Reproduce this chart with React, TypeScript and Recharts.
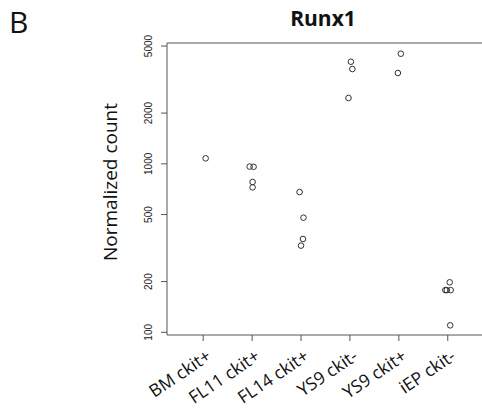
import React from 'react';
import {
  ScatterChart,
  Scatter,
  XAxis,
  YAxis,
  ReferenceLine
} from 'recharts';

// sample groups, left to right
const categories = ['BM ckit+', 'FL11 ckit+', 'FL14 ckit+', 'YS9 ckit-', 'YS9 ckit+', 'iEP ckit-'];

// normalized counts per sample
const bmCkitPlus = [1078];
const fl11CkitPlus = [963, 960, 780, 725];
const fl14CkitPlus = [680, 479, 358, 327];
const ys9CkitMinus = [4036, 3652, 2458];
const ys9CkitPlus = [4502, 3459];
const iepCkitMinus = [198, 178, 178, 178, 110];

// horizontal jitter used by the original stripchart
const bmJitter = [0.05];
const fl11Jitter = [-0.05, 0.03, 0.01, 0.01];
const fl14Jitter = [-0.03, 0.05, 0.04, 0];
const ys9MinusJitter = [0.02, 0.05, -0.03];
const ys9PlusJitter = [0.04, -0.02];
const iepJitter = [0.04, -0.05, -0.02, 0.06, 0.05];

const yTicks = [100, 200, 500, 1000, 2000, 5000];
const xTicks = [1, 2, 3, 4, 5, 6];

const groups = [
  [bmCkitPlus, bmJitter],
  [fl11CkitPlus, fl11Jitter],
  [fl14CkitPlus, fl14Jitter],
  [ys9CkitMinus, ys9MinusJitter],
  [ys9CkitPlus, ys9PlusJitter],
  [iepCkitMinus, iepJitter]
];

const points = groups.flatMap(([vals, jit], i) =>
  vals.map((v, j) => ({ x: i + 1 + jit[j], y: v }))
);

const axisColor = '#555555';
const yDomain = [96.4, 5212];

const XTick = (props: any) => {
  const { x, y, payload } = props;
  const tx = x + 9;
  const ty = y + 16;
  return (
    <text
      x={tx}
      y={ty}
      textAnchor="end"
      fontSize={17.5}
      fontFamily="'Open Sans', sans-serif"
      fill="#111"
      transform={`rotate(-34, ${tx}, ${ty})`}
    >
      {categories[payload.value - 1]}
    </text>
  );
};

const YTick = (props: any) => {
  const { y, payload } = props;
  return (
    <text
      x={152}
      y={y}
      textAnchor="middle"
      fontSize={10}
      fontFamily="'Liberation Sans', Arial, sans-serif"
      fill="#222"
      transform={`rotate(-90, 152, ${y})`}
    >
      {payload.value}
    </text>
  );
};

const Dot = (props: any) => {
  const { cx, cy } = props;
  return <circle cx={cx} cy={cy} r={2.8} fill="none" stroke="#333" strokeWidth={1} />;
};

export default function App() {
  return (
    <div style={{ position: 'fixed', left: 0, top: 0, width: 482, height: 409, background: '#fff' }}>
      <ScatterChart width={482} height={409} margin={{ top: 43, right: 0, bottom: 0, left: 0 }}>
        <XAxis
          type="number"
          dataKey="x"
          domain={[0.26, 6.7]}
          ticks={xTicks}
          allowDataOverflow
          height={74}
          stroke={axisColor}
          tickSize={6}
          tickMargin={2}
          tick={<XTick />}
        />
        <YAxis
          type="number"
          dataKey="y"
          scale="log"
          domain={yDomain}
          ticks={yTicks}
          allowDataOverflow
          width={167}
          stroke={axisColor}
          tickSize={6}
          tick={<YTick />}
        />
        <ReferenceLine y={yDomain[1]} stroke={axisColor} />
        <Scatter data={points} shape={<Dot />} isAnimationActive={false} />
      </ScatterChart>
      <div style={{ position: 'absolute', left: 9, top: 1, lineHeight: 'normal', fontSize: 30, fontFamily: "'Open Sans', sans-serif", color: '#111' }}>B</div>
      <div style={{ position: 'absolute', left: 263, top: 4, width: 120, textAlign: 'center', lineHeight: 'normal', fontSize: 21, fontWeight: 'bold', fontFamily: "'Open Sans', sans-serif", color: '#111' }}>Runx1</div>
      <div
        style={{
          position: 'absolute',
          left: 110,
          top: 182,
          transform: 'translate(-50%, -50%) rotate(-90deg)',
          whiteSpace: 'nowrap',
          fontSize: 19,
          fontFamily: "'Open Sans', sans-serif",
          color: '#111'
        }}
      >
        Normalized count
      </div>
    </div>
  );
}
